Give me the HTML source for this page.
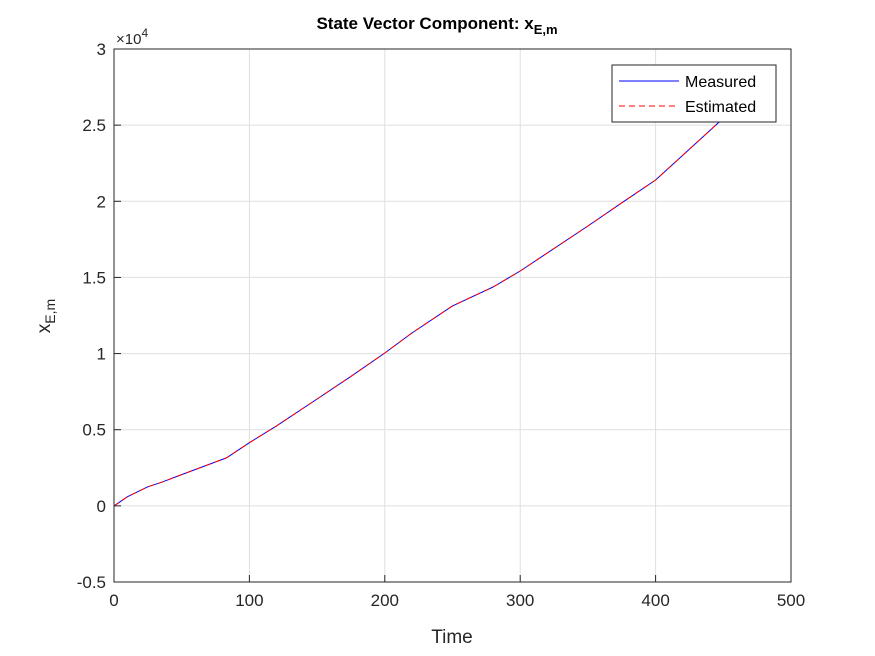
<!DOCTYPE html>
<html><head><meta charset="utf-8"><style>
body{margin:0;background:#fff;}
svg{display:block;font-family:"Liberation Sans",Arial,sans-serif;}
</style></head><body>
<svg id="chart" width="875" height="656">
<rect width="875" height="656" fill="#fff"/>
<rect x="114" y="49" width="677" height="533" fill="#fff"/>
<g id="grid"></g>
<g id="series"></g>
<rect x="114" y="49" width="677" height="533" fill="none" stroke="#262626" stroke-width="1"/>
<g id="ticks"></g>
<text x="437" y="29" text-anchor="middle" font-size="17" font-weight="bold" fill="#000">State Vector Component: x<tspan font-size="13" dy="5">E,m</tspan></text>
<text x="452" y="643" text-anchor="middle" font-size="19" fill="#262626">Time</text>
<text transform="translate(50,316) rotate(-90)" text-anchor="middle" font-size="19" fill="#262626">x<tspan font-size="14" dy="5">E,m</tspan></text>
<text x="116" y="44" font-size="15" fill="#262626">×10<tspan font-size="12" dy="-7">4</tspan></text>
<g>
<rect x="612" y="65" width="164" height="57" fill="#fff" stroke="#262626" stroke-width="1"/>
<line x1="619" y1="81" x2="679" y2="81" stroke="#0000ff" stroke-width="1"/>
<text x="685" y="87" font-size="16" fill="#000">Measured</text>
<line x1="619" y1="106" x2="679" y2="106" stroke="#ff0000" stroke-width="1" stroke-dasharray="6,4"/>
<text x="685" y="112" font-size="16" fill="#000">Estimated</text>
</g>
</svg>
<script>
const times=[0,10,25,35,50,65,83,100,120,150,175,200,220,250,280,300,350,375,400,450];
const measured=[0,600,1250,1550,2050,2550,3150,4150,5250,7020,8500,10040,11350,13130,14370,15420,18380,19900,21400,25450];
const estimated=[0,600,1250,1550,2050,2550,3150,4150,5250,7020,8500,10040,11350,13130,14370,15420,18380,19900,21400,25450];
const xTicks=[0,100,200,300,400,500];
const yTicks=[-0.5,0,0.5,1,1.5,2,2.5,3];
const yTickLabels=["-0.5","0","0.5","1","1.5","2","2.5","3"];
const X0=114,X1=791,Y0=582,Y1=49;
const sx=t=>X0+(t-0)/(500-0)*(X1-X0);
const sy=v=>Y0-(v/1e4+0.5)/3.5*(Y0-Y1);
const NS="http://www.w3.org/2000/svg";
const grid=document.getElementById('grid'),ticks=document.getElementById('ticks'),series=document.getElementById('series');
function mk(tag,attrs,parent){const e=document.createElementNS(NS,tag);for(const k in attrs)e.setAttribute(k,attrs[k]);parent.appendChild(e);return e;}
xTicks.forEach(t=>{const x=sx(t);
 const g=mk('line',{x1:x,x2:x,y1:Y1,y2:Y0,stroke:'#dfdfdf','stroke-width':1},grid);
 
 
 const tk=mk('line',{x1:x,x2:x,y1:Y0,y2:Y0-7,stroke:'#262626'},ticks);
 
 
 const tx=mk('text',{x:x,y:Y0+24,'text-anchor':'middle','font-size':17,fill:'#262626'},ticks);tx.textContent=t;
 
 
});
yTicks.forEach((v,i)=>{const y=sy(v*1e4);
 const g=mk('line',{x1:X0,x2:X1,y1:y,y2:y,stroke:'#dfdfdf','stroke-width':1},grid);
 
 
 const tk=mk('line',{x1:X0,x2:X0+7,y1:y,y2:y,stroke:'#262626'},ticks);
 
 
 const tx=mk('text',{x:X0-8,y:y+6,'text-anchor':'end','font-size':17,fill:'#262626'},ticks);tx.textContent=yTickLabels[i];
 
 
});
function path(vals){return vals.map((v,i)=>(i?'L':'M')+sx(times[i]).toFixed(1)+','+sy(v).toFixed(1)).join(' ');}
const m=mk('path',{d:path(measured),fill:'none',stroke:'#0000ff','stroke-width':1,'stroke-linejoin':'round'},series);


const e=mk('path',{d:path(estimated),fill:'none',stroke:'#ff0000','stroke-width':1,'stroke-dasharray':'6,4'},series);


</script>
</body></html>
